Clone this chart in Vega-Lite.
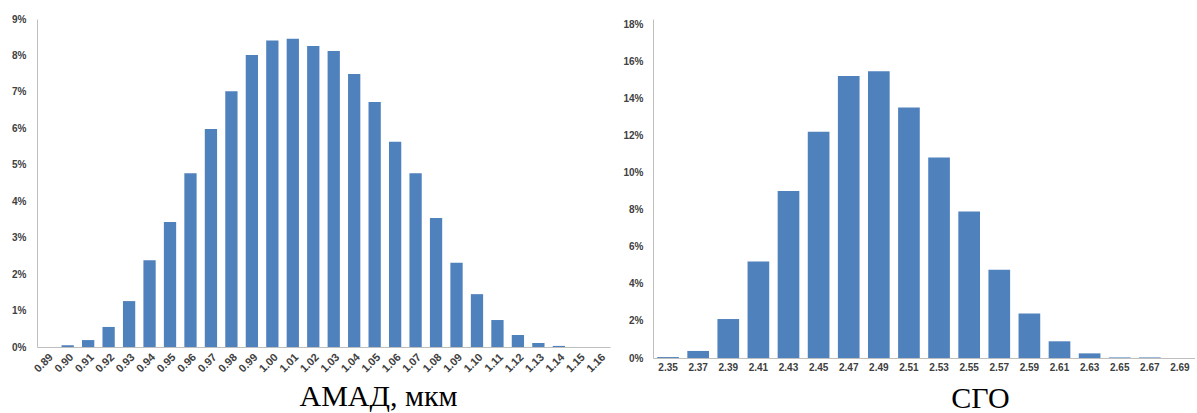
{
  "$schema": "https://vega.github.io/schema/vega-lite/v6.json",
  "padding": {"left": 0, "top": 14, "right": 0, "bottom": 0},
  "background": "white",
  "spacing": 3,
  "config": {
    "view": {"stroke": null},
    "axis": {"labelFont": "Liberation Sans", "labelFontWeight": "bold", "labelFontSize": 10, "labelColor": "#404040", "domainColor": "#BFBFBF", "ticks": false, "grid": false}
  },
  "hconcat": [
    {
      "width": 573,
      "height": 328,
      "data": {"values": [
        {"d": "0.89", "p": 0.0},
        {"d": "0.90", "p": 0.0005},
        {"d": "0.91", "p": 0.0019},
        {"d": "0.92", "p": 0.0055},
        {"d": "0.93", "p": 0.0126},
        {"d": "0.94", "p": 0.0238},
        {"d": "0.95", "p": 0.0343},
        {"d": "0.96", "p": 0.0477},
        {"d": "0.97", "p": 0.0598},
        {"d": "0.98", "p": 0.0702},
        {"d": "0.99", "p": 0.0801},
        {"d": "1.00", "p": 0.0841},
        {"d": "1.01", "p": 0.0846},
        {"d": "1.02", "p": 0.0826},
        {"d": "1.03", "p": 0.0812},
        {"d": "1.04", "p": 0.0749},
        {"d": "1.05", "p": 0.0672},
        {"d": "1.06", "p": 0.0563},
        {"d": "1.07", "p": 0.0477},
        {"d": "1.08", "p": 0.0354},
        {"d": "1.09", "p": 0.0231},
        {"d": "1.10", "p": 0.0145},
        {"d": "1.11", "p": 0.0074},
        {"d": "1.12", "p": 0.0033},
        {"d": "1.13", "p": 0.0011},
        {"d": "1.14", "p": 0.0003},
        {"d": "1.15", "p": 0.0},
        {"d": "1.16", "p": 0.0}
      ]},
      "mark": {"type": "bar", "color": "#4F81BD"},
      "encoding": {
        "x": {"field": "d", "type": "ordinal", "sort": null, "scale": {"paddingInner": 0.4, "paddingOuter": 0.2},
          "axis": {"labelAngle": -45, "labelPadding": 4, "labelFontSize": 11, "title": "АМАД, мкм", "titleFont": "Liberation Serif", "titleFontSize": 30, "titleFontWeight": "normal", "titleColor": "#000", "titleX": 341, "titleY": 58, "titleBaseline": "alphabetic", "titleAlign": "center"}},
        "y": {"field": "p", "type": "quantitative", "scale": {"domain": [0, 0.09]},
          "axis": {"format": ".0%", "values": [0, 0.01, 0.02, 0.03, 0.04, 0.05, 0.06, 0.07, 0.08, 0.09], "labelPadding": 11, "minExtent": 37, "maxExtent": 37, "title": null}}
      }
    },
    {
      "width": 542,
      "height": 339,
      "data": {"values": [
        {"d": "2.35", "p": 0.0005},
        {"d": "2.37", "p": 0.0038},
        {"d": "2.39", "p": 0.021},
        {"d": "2.41", "p": 0.052},
        {"d": "2.43", "p": 0.090},
        {"d": "2.45", "p": 0.122},
        {"d": "2.47", "p": 0.152},
        {"d": "2.49", "p": 0.1545},
        {"d": "2.51", "p": 0.135},
        {"d": "2.53", "p": 0.108},
        {"d": "2.55", "p": 0.079},
        {"d": "2.57", "p": 0.0475},
        {"d": "2.59", "p": 0.024},
        {"d": "2.61", "p": 0.009},
        {"d": "2.63", "p": 0.0025},
        {"d": "2.65", "p": 0.0003},
        {"d": "2.67", "p": 0.0003},
        {"d": "2.69", "p": 0.0}
      ]},
      "mark": {"type": "bar", "color": "#4F81BD"},
      "encoding": {
        "x": {"field": "d", "type": "ordinal", "sort": null, "scale": {"paddingInner": 0.28, "paddingOuter": 0.14},
          "axis": {"labelAngle": 0, "labelPadding": 4, "title": "СГО", "titleFont": "Liberation Serif", "titleFontSize": 30, "titleFontWeight": "normal", "titleColor": "#000", "titleX": 327, "titleY": 49, "titleBaseline": "alphabetic", "titleAlign": "center"}},
        "y": {"field": "p", "type": "quantitative", "scale": {"domain": [0, 0.1827]},
          "axis": {"format": ".0%", "values": [0, 0.02, 0.04, 0.06, 0.08, 0.10, 0.12, 0.14, 0.16, 0.18], "labelPadding": 10, "minExtent": 40, "maxExtent": 40, "title": null}}
      }
    }
  ]
}
